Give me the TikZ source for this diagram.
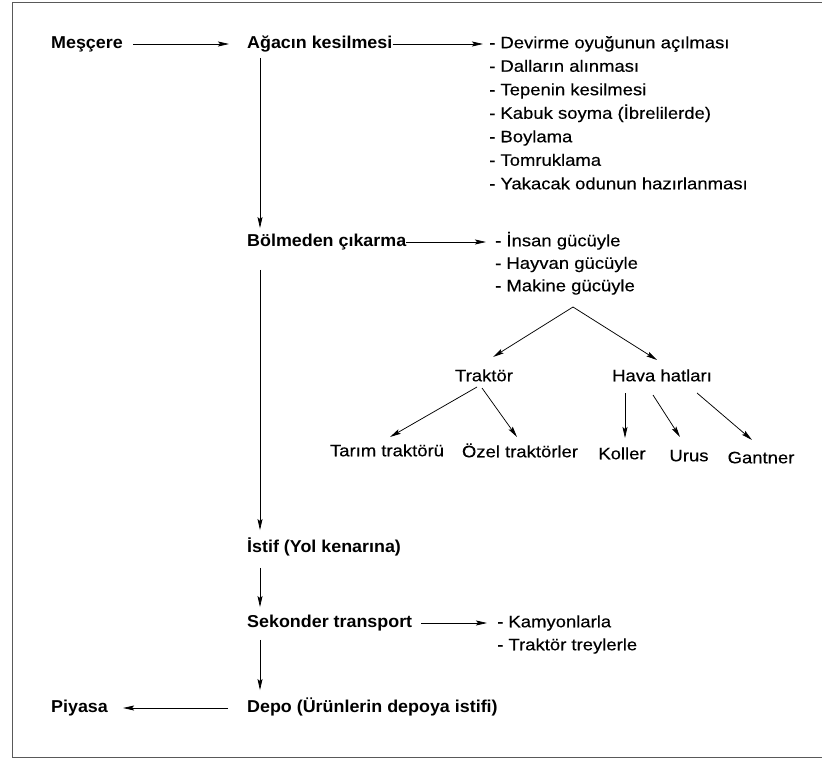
\documentclass[tikz,border=0pt]{standalone}
\usepackage{fontspec}
\setmainfont{Liberation Sans}
\newfontfamily\regf[FakeStretch=1.12,FakeBold=0.3]{Liberation Sans}
\newfontfamily\boldf[FakeStretch=1.04]{Liberation Sans Bold}
\usetikzlibrary{arrows.meta}
\begin{document}
\begin{tikzpicture}[x=1pt,y=-1pt,
  lbl/.style={inner sep=0pt,text height=12pt,text depth=3.5pt,font=\regf\fontsize{16.5}{18}\selectfont},
  mainlbl/.style={inner sep=0pt,text height=12pt,text depth=3.5pt,font=\boldf\fontsize{17.2}{19}\selectfont},
  arr/.style={line width=0.75pt,-{Stealth[length=11pt,width=5pt,inset=2pt]}},
  frame/.style={line width=1pt,black!65}]
\useasboundingbox (0,0) rectangle (822,760);
\draw[frame] (822,3) -- (12,3) -- (12,757) -- (822,757);

% main column
\node[mainlbl,anchor=west] (mes) at (51,44) {Meşçere};
\node[mainlbl,anchor=west] (aga) at (247,44) {Ağacın kesilmesi};
\node[mainlbl,anchor=west] (bol) at (247,242) {Bölmeden çıkarma};
\node[mainlbl,anchor=west] (ist) at (247,548) {İstif (Yol kenarına)};
\node[mainlbl,anchor=west] (sek) at (247,623) {Sekonder transport};
\node[mainlbl,anchor=west] (dep) at (247,708) {Depo (Ürünlerin depoya istifi)};
\node[mainlbl,anchor=west] (piy) at (51,708) {Piyasa};

% list 1
\node[lbl,anchor=west] (l1) at (489,44) {- Devirme oyuğunun açılması};
\node[lbl,anchor=west] (l2) at (489,67.5) {- Dalların alınması};
\node[lbl,anchor=west] (l3) at (489,91) {- Tepenin kesilmesi};
\node[lbl,anchor=west] (l4) at (489,114.5) {- Kabuk soyma (İbrelilerde)};
\node[lbl,anchor=west] (l5) at (489,138) {- Boylama};
\node[lbl,anchor=west] (l6) at (489,161.5) {- Tomruklama};
\node[lbl,anchor=west] (l7) at (489,185) {- Yakacak odunun hazırlanması};

% list 2
\node[lbl,anchor=west] (m1) at (495,242) {- İnsan gücüyle};
\node[lbl,anchor=west] (m2) at (495,264.5) {- Hayvan gücüyle};
\node[lbl,anchor=west] (m3) at (495,287) {- Makine gücüyle};

% list 3
\node[lbl,anchor=west] (k1) at (497,623) {- Kamyonlarla};
\node[lbl,anchor=west] (k2) at (497,646) {- Traktör treylerle};

% tree
\coordinate (apex) at (573,307);
\node[lbl] (trak) at (484,377) {Traktör};
\node[lbl] (hava) at (662,377) {Hava hatları};
\node[lbl] (tarim) at (387,452) {Tarım traktörü};
\node[lbl] (ozel) at (520,453) {Özel traktörler};
\node[lbl] (koll) at (622,455) {Koller};
\node[lbl] (urus) at (689,457) {Urus};
\node[lbl] (gant) at (761,459) {Gantner};

% horizontal arrows
\draw[arr] ([xshift=10pt]mes.east) -- ([xshift=-18pt]aga.west);
\draw[arr] (aga.east) -- ([xshift=-6pt]l1.west);
\draw[arr] (bol.east) -- ([xshift=-9pt]m1.west);
\draw[arr] ([xshift=9pt]sek.east) -- ([xshift=-10pt]k1.west);
\draw[arr] ([xshift=-19pt]dep.west) -- ([xshift=15pt]piy.east);

% vertical arrows
\coordinate (vx) at (260,0);
\draw[arr] ([yshift=-6pt]aga.south -| vx) -- ([yshift=6pt]bol.north -| vx);
\draw[arr] ([yshift=-20pt]bol.south -| vx) -- ([yshift=10pt]ist.north -| vx);
\draw[arr] ([yshift=-12pt]ist.south -| vx) -- ([yshift=8pt]sek.north -| vx);
\draw[arr] ([yshift=-9pt]sek.south -| vx) -- ([yshift=10pt]dep.north -| vx);

% tree arrows
\draw[arr] (apex) -- ([shift={(9,-20)}]trak.center);
\draw[arr] (apex) -- ([shift={(-5,-17)}]hava.center);
\draw[arr] ([shift={(-7,10)}]trak.center) -- ([shift={(3,-15)}]tarim.center);
\draw[arr] ([shift={(-2,11)}]trak.center) -- ([shift={(-3,-16)}]ozel.center);
\draw[arr] ([shift={(-37,16)}]hava.center) -- ([shift={(3,-17)}]koll.center);
\draw[arr] ([shift={(-9,18)}]hava.center) -- ([shift={(-9,-20)}]urus.center);
\draw[arr] ([shift={(35,16)}]hava.center) -- ([shift={(-9,-19)}]gant.center);
\end{tikzpicture}
\end{document}
